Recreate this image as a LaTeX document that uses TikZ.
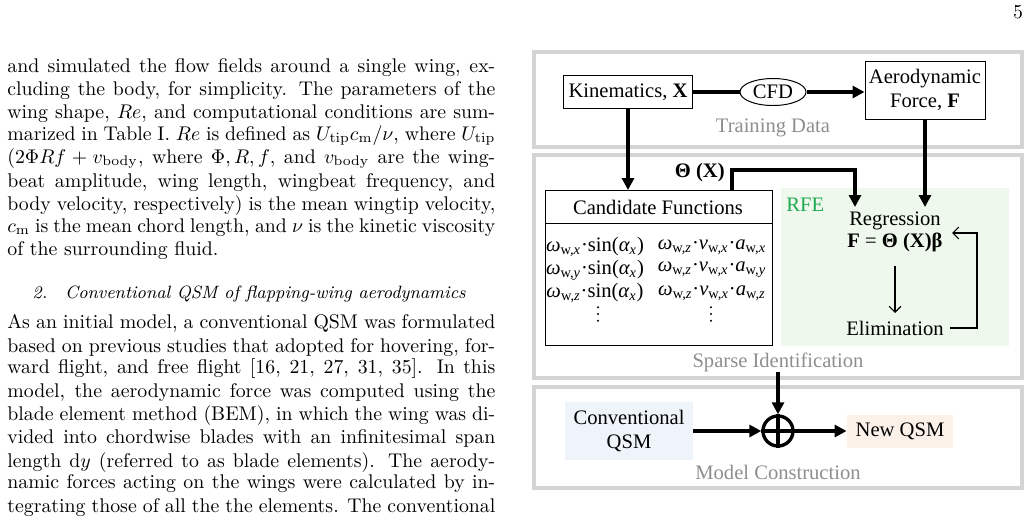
\documentclass[tikz,border=0pt]{standalone}
\usepackage[no-math]{fontspec}
\usetikzlibrary{arrows.meta,shapes.geometric}
\newfontfamily\dfont{Liberation Serif}
\definecolor{boxgray}{HTML}{D4D4D4}
\definecolor{labgray}{HTML}{8E8E8E}
\definecolor{rfegreen}{HTML}{EEF8EC}
\definecolor{rfetext}{HTML}{1FAA50}
\definecolor{convblue}{HTML}{EEF4FA}
\definecolor{newpeach}{HTML}{FBF1E9}
% one justified line of the body text
\newcommand{\bline}[2]{\node[anchor=base west] at (7,#1) {\hbox to 246.4pt{#2}};}
\newcommand{\lline}[2]{\node[anchor=base west] at (7,#1) {#2};}
\newcommand{\wsub}[2]{\textit{#1}\textsubscript{w,\textit{#2}}}
\newcommand{\vdts}{\tikz[baseline=0pt]{\foreach \k in {0,1,2} \fill (0,\k*3.4pt) circle (0.55pt);}}
\begin{document}
\begin{tikzpicture}[x=0.505pt,y=-0.505pt,
  every node/.style={inner sep=0pt},
  stage/.style={draw=boxgray,line width=1.6pt},
  stagelab/.style={font=\dfont\fontsize{10.4}{12}\selectfont,text=labgray},
  blk/.style={draw,line width=0.5pt,font=\dfont\fontsize{10.4}{12}\selectfont,align=center,inner sep=2pt},
  plain/.style={font=\dfont\fontsize{10.4}{12}\selectfont,align=center},
  flow/.style={line width=1.7pt,-{Triangle[length=6pt,width=6pt]}},
  thin/.style={line width=0.6pt,-{Straight Barb[length=3pt,width=6pt]}}]
\useasboundingbox (0,0) rectangle (1029,525);
\node[anchor=base] at (1018,18) {5};
% body text
\bline{72}{and simulated the flow fields around a single wing, ex-}
\bline{95}{cluding the body, for simplicity. The parameters of the}
\bline{118}{wing shape, $Re$, and computational conditions are sum-}
\bline{140}{marized in Table I. $Re$ is defined as $U_{\mathrm{tip}}c_{\mathrm{m}}/\nu$, where $U_{\mathrm{tip}}$}
\bline{163}{$(2\Phi Rf+v_{\mathrm{body}}$, where $\Phi, R, f$, and $v_{\mathrm{body}}$ are the wing-}
\bline{187}{beat amplitude, wing length, wingbeat frequency, and}
\bline{210}{body velocity, respectively) is the mean wingtip velocity,}
\bline{232}{$c_{\mathrm{m}}$ is the mean chord length, and $\nu$ is the kinetic viscosity}
\lline{255}{of the surrounding fluid.}
\node[anchor=base west,font=\small\itshape] at (32,298) {2.\quad Conventional QSM of flapping-wing aerodynamics};
\bline{328}{As an initial model, a conventional QSM was formulated}
\bline{352}{based on previous studies that adopted for hovering, for-}
\bline{373}{ward flight, and free flight [16, 21, 27, 31, 35]. In this}
\bline{397}{model, the aerodynamic force was computed using the}
\bline{420}{blade element method (BEM), in which the wing was di-}
\bline{443}{vided into chordwise blades with an infinitesimal span}
\bline{467}{length d$y$ (referred to as blade elements). The aerody-}
\bline{488}{namic forces acting on the wings were calculated by in-}
\bline{512}{tegrating those of all the the elements. The conventional}
% stage frames
\draw[stage] (534,52) rectangle (1022,147);
\draw[stage] (534,155) rectangle (1022,378);
\draw[stage] (534,387) rectangle (1022,488);
\node[stagelab] at (773,128) {Training Data};
\node[stagelab] at (778,362) {Sparse Identification};
\node[stagelab] at (778,472) {Model Construction};
% training data
\node[blk,minimum width=129*0.505pt,minimum height=33*0.505pt] (kin) at (628,92) {Kinematics, \textbf{X}};
\node[draw,ellipse,line width=0.5pt,plain,inner sep=0pt,minimum width=66*0.505pt,minimum height=27*0.505pt] (cfd) at (773,92) {CFD};
\node[blk,minimum width=120*0.505pt,minimum height=58*0.505pt] (aero) at (925,90) {Aerodynamic\\Force, \textbf{F}};
\draw[line width=1.7pt] (kin) -- (cfd);
\draw[flow] (cfd) -- (aero.west|-cfd);
% sparse identification
\fill[rfegreen] (781,188) rectangle (1009,346);
\node[anchor=west,font=\dfont\fontsize{10.4}{12}\selectfont,text=rfetext] at (786,205) {RFE};
\draw[line width=0.5pt] (545,190) rectangle (772,345);
\draw[line width=0.5pt] (545,223) -- (772,223);
\node[plain] (cand) at (658,207) {Candidate Functions};
\coordinate (candtop) at (628,190);
\node[plain] at (595,247) {\wsub{ω}{x}·sin(\textit{α\textsubscript{x}})};
\node[plain] at (712,247) {\wsub{ω}{z}·\wsub{v}{x}·\wsub{a}{x}};
\node[plain] at (595,270) {\wsub{ω}{y}·sin(\textit{α\textsubscript{x}})};
\node[plain] at (712,270) {\wsub{ω}{z}·\wsub{v}{x}·\wsub{a}{y}};
\node[plain] at (595,293) {\wsub{ω}{z}·sin(\textit{α\textsubscript{x}})};
\node[plain] at (712,293) {\wsub{ω}{z}·\wsub{v}{x}·\wsub{a}{z}};
\node (dots1) at (598,314) {\vdts};
\node (dots2) at (711,314) {\vdts};
\node[plain,anchor=east] (theta) at (725,173) {\textbf{Θ (X)}};
\node[plain] (reg) at (895,221) {Regression};
\node[plain] (eq) at (895,242) {\textbf{F} = \textbf{Θ (X)β}};
\node[plain] (elim) at (895,328) {Elimination};
\coordinate (regin) at (925,207);
\coordinate (thin) at (855,207);
\coordinate (elimtop) at (895,313);
\coordinate (regback) at (952,233);
\draw[flow] (kin) -- (candtop);
\draw[flow] (732,190) -- (732,170) -- (855,170) -- (thin);
\draw[flow] (aero) -- (regin);
\draw[thin] (895,266) -- (elimtop);
\draw[thin] (elim.east) ++(6,0) -- (977,328) -- (977,233) -- (regback);
% model construction
\node[fill=convblue,plain,minimum width=128*0.505pt,minimum height=58*0.505pt] (conv) at (629,431) {Conventional\\QSM};
\node[draw,circle,line width=1.7pt,minimum size=30*0.505pt] (sum) at (778,431) {};
\draw[line width=1.7pt] (sum.north) -- (sum.south) (sum.west) -- (sum.east);
\node[fill=newpeach,plain,minimum width=106*0.505pt,minimum height=33*0.505pt] (nqsm) at (900,431) {New QSM};
\coordinate (sparseout) at (778,372);
\draw[flow] (sparseout) -- (sum.north);
\draw[flow] (conv) -- (sum);
\draw[flow] (sum) -- (nqsm);
\end{tikzpicture}
\end{document}
